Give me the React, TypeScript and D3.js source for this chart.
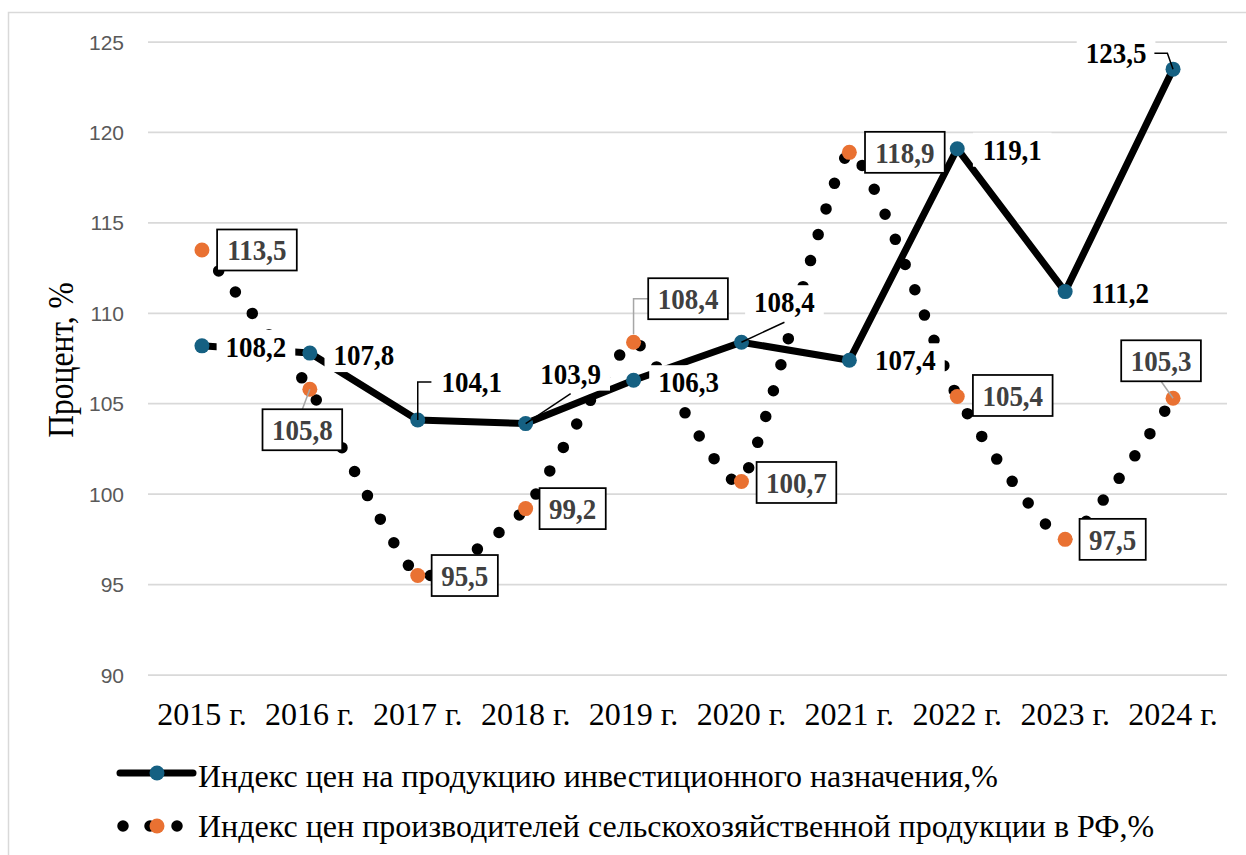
import React from "react";
import * as d3 from "d3";

// ---- data ----
const categories = ["2015 г.", "2016 г.", "2017 г.", "2018 г.", "2019 г.", "2020 г.", "2021 г.", "2022 г.", "2023 г.", "2024 г."];
const investIndex = [108.2, 107.8, 104.1, 103.9, 106.3, 108.4, 107.4, 119.1, 111.2, 123.5];
const agriIndex = [113.5, 105.8, 95.5, 99.2, 108.4, 100.7, 118.9, 105.4, 97.5, 105.3];
const yTicks = [90, 95, 100, 105, 110, 115, 120, 125];
const seriesNames = [
  "Индекс цен на продукцию инвестиционного назначения,%",
  "Индекс цен производителей сельскохозяйственной продукции в РФ,%",
];
const yTitle = "Процент, %";

// ---- label layout (offsets from marker, px) ----
type Leader = "none" | "elbowLeft" | "under" | "elbowRight" | "top" | "bottom";
const investLabelLayout: { dx: number; dy: number; leader: Leader }[] = [
  { dx: 54, dy: 1, leader: "none" },
  { dx: 54, dy: 2, leader: "none" },
  { dx: 54, dy: -38, leader: "elbowLeft" },
  { dx: 45, dy: -50, leader: "under" },
  { dx: 55, dy: 2, leader: "none" },
  { dx: 43, dy: -40, leader: "under" },
  { dx: 56, dy: 0, leader: "none" },
  { dx: 55, dy: 1, leader: "none" },
  { dx: 55, dy: 1, leader: "none" },
  { dx: -57, dy: -16, leader: "elbowRight" },
];
const agriLabelLayout: { dx: number; dy: number; leader: Leader }[] = [
  { dx: 55, dy: 0, leader: "none" },
  { dx: -7.5, dy: 40.5, leader: "top" },
  { dx: 47, dy: 0, leader: "none" },
  { dx: 47, dy: 0, leader: "none" },
  { dx: 54.5, dy: -43.5, leader: "elbowLeft" },
  { dx: 55, dy: 1, leader: "none" },
  { dx: 55.5, dy: 0, leader: "none" },
  { dx: 55.5, dy: -1, leader: "none" },
  { dx: 47.5, dy: 0, leader: "none" },
  { dx: -12, dy: -37.5, leader: "bottom" },
];

const W = 1246;
const H = 855;
const BLUE = "#156082";
const ORANGE = "#E97132";
const GRID = "#d9d9d9";
const SERIF = "'Liberation Serif', 'Times New Roman', serif";
const SANS = "'Liberation Sans', Arial, sans-serif";

const LABEL_FS = 29;
const LABEL_SX = 0.93;
const fmt = (v: number) => d3.format(".1f")(v).replace(".", ",");
const labelWidth = (s: string) => {
  let w = 0;
  for (const ch of s) w += ch === "," ? 0.25 : 0.5;
  return w * LABEL_FS * LABEL_SX;
};

function SText(props: { x: number; y: number; sx?: number; rotate?: number; children: React.ReactNode; [k: string]: any }) {
  const { x, y, sx = 1, rotate = 0, children, ...rest } = props;
  return (
    <g transform={`translate(${x},${y}) rotate(${rotate}) scale(${sx},1)`}>
      <text x={0} y={0} {...rest}>
        {children}
      </text>
    </g>
  );
}

export default function App() {
  const x = d3.scaleBand<string>().domain(categories).range([148, 1227]).paddingInner(0).paddingOuter(0);
  const cx = (c: string) => (x(c) as number) + x.bandwidth() / 2;
  const y = d3.scaleLinear().domain([90, 125]).range([675, 42]);

  const investPts: [number, number][] = categories.map((c, i) => [cx(c), y(investIndex[i])]);
  const agriPts: [number, number][] = categories.map((c, i) => [cx(c), y(agriIndex[i])]);

  const straight = d3.line();
  const smooth = d3.line().curve(d3.curveCardinal.tension(0.5));

  return (
    <svg width={W} height={H} style={{ position: "absolute", left: 0, top: 0, display: "block", background: "#fff" }}>
      <rect x={0} y={0} width={W} height={H} fill="#fff" />
      <rect x={8.5} y={12.5} width={1260} height={900} fill="none" stroke={GRID} strokeWidth={1.5} />

      {/* gridlines */}
      {yTicks.map((t) => (
        <line key={t} x1={148} x2={1227} y1={y(t)} y2={y(t)} stroke={GRID} strokeWidth={1.75} />
      ))}
      {/* y tick labels */}
      {yTicks.map((t) => (
        <text key={"l" + t} x={124} y={y(t)} dy="0.36em" textAnchor="end" fontFamily={SANS} fontSize={21} fill="#595959">
          {t}
        </text>
      ))}
      {/* y title */}
      <SText x={73} y={360} rotate={-90} sx={0.9} textAnchor="middle" fontFamily={SERIF} fontSize={35} fill="#000">
        {yTitle}
      </SText>
      {/* x labels */}
      {categories.map((c) => (
        <SText key={c} x={cx(c)} y={725} sx={1} textAnchor="middle" fontFamily={SERIF} fontSize={32} fill="#000">
          {c}
        </SText>
      ))}

      {/* series 1: investment */}
      <path d={straight(investPts) || ""} fill="none" stroke="#000" strokeWidth={7} strokeLinejoin="round" strokeLinecap="round" />
      {investPts.map((p, i) => (
        <circle key={"b" + i} cx={p[0]} cy={p[1]} r={7.5} fill={BLUE} />
      ))}

      {/* series 2: agriculture */}
      <path d={smooth(agriPts) || ""} fill="none" stroke="#000" strokeWidth={11.5} strokeDasharray="0 27" strokeLinecap="round" />
      {agriPts.map((p, i) => (
        <circle key={"o" + i} cx={p[0]} cy={p[1]} r={7.5} fill={ORANGE} />
      ))}

      {/* labels series 1 */}
      {investPts.map((p, i) => {
        const L = investLabelLayout[i];
        const s = fmt(investIndex[i]);
        const w = labelWidth(s);
        const lx = p[0] + L.dx;
        const ly = p[1] + L.dy;
        let leader: string | null = null;
        if (L.leader === "elbowLeft") leader = `M${p[0]},${p[1]}L${p[0]},${ly}L${lx - w / 2 - 10},${ly}`;
        if (L.leader === "under") leader = `M${p[0]},${p[1]}L${lx},${ly + 20}`;
        if (L.leader === "elbowRight") leader = `M${p[0]},${p[1]}L${lx + w / 2 + 21},${ly}L${lx + w / 2 + 8},${ly}`;
        return (
          <g key={"bl" + i}>
            <rect x={lx - w / 2 - 9} y={ly - 17} width={w + 18} height={34} fill="#fff" />
            {leader && <path d={leader} fill="none" stroke="#000" strokeWidth={1.5} />}
            <SText x={lx} y={ly + 10} sx={LABEL_SX} textAnchor="middle" fontFamily={SERIF} fontWeight="bold" fontSize={LABEL_FS} fill="#000">
              {s}
            </SText>
          </g>
        );
      })}

      {/* labels series 2 */}
      {agriPts.map((p, i) => {
        const L = agriLabelLayout[i];
        const s = fmt(agriIndex[i]);
        const w = labelWidth(s) + 19;
        const h = 41;
        const bx = p[0] + L.dx;
        const by = p[1] + L.dy;
        let leader: string | null = null;
        if (L.leader === "top") leader = `M${p[0]},${p[1]}L${bx},${by - h / 2}`;
        if (L.leader === "bottom") leader = `M${bx},${by + h / 2}L${p[0]},${p[1]}`;
        if (L.leader === "elbowLeft") leader = `M${p[0]},${p[1] - 8}L${p[0]},${by}L${bx - w / 2},${by}`;
        return (
          <g key={"ol" + i}>
            {leader && <path d={leader} fill="none" stroke="#a6a6a6" strokeWidth={1.5} />}
            <rect x={bx - w / 2} y={by - h / 2} width={w} height={h} fill="#fff" stroke="#000" strokeWidth={1.75} />
            <SText x={bx} y={by + 10.5} sx={LABEL_SX} textAnchor="middle" fontFamily={SERIF} fontWeight="bold" fontSize={LABEL_FS} fill="#404040">
              {s}
            </SText>
          </g>
        );
      })}

      {/* legend */}
      <g>
        <line x1={120} x2={193} y1={773} y2={773} stroke="#000" strokeWidth={7} strokeLinecap="round" />
        <circle cx={157} cy={773} r={7.5} fill={BLUE} />
        <SText x={198} y={787} sx={1} fontFamily={SERIF} fontSize={32} fill="#000">
          {seriesNames[0]}
        </SText>
        <line x1={123} x2={177.5} y1={826} y2={826} stroke="#000" strokeWidth={11.5} strokeDasharray="0 27" strokeLinecap="round" />
        <circle cx={157} cy={826} r={7.5} fill={ORANGE} />
        <SText x={198} y={837} sx={1} fontFamily={SERIF} fontSize={32} fill="#000">
          {seriesNames[1]}
        </SText>
      </g>
    </svg>
  );
}
